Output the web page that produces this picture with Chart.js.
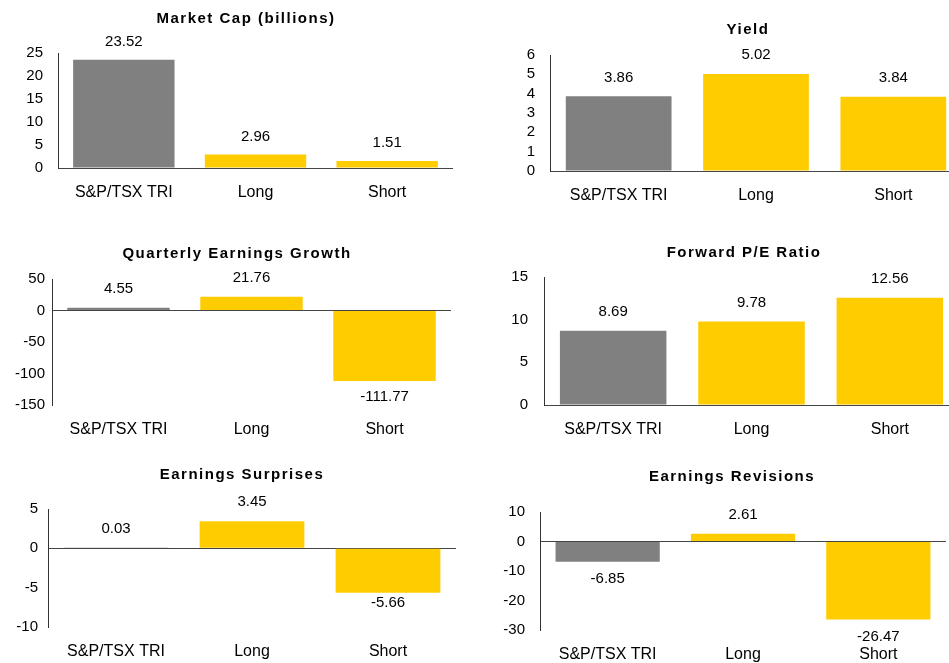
<!DOCTYPE html>
<html>
<head>
<meta charset="utf-8">
<script src="https://cdn.jsdelivr.net/npm/chart.js@4"></script>
<style>
    html, body { margin: 0; padding: 0; background: #fff; width: 949px; height: 663px; overflow: hidden; }
    body { position: relative; }
    .panel { position: absolute; }
</style>
</head>
<body>
<script>
// Data
const categories = ['S&P/TSX TRI', 'Long', 'Short'];
const marketCap = [23.52, 2.96, 1.51];
const yieldValues = [3.86, 5.02, 3.84];
const earningsGrowth = [4.55, 21.76, -111.77];
const forwardPE = [8.69, 9.78, 12.56];
const earningsSurprises = [0.03, 3.45, -5.66];
const earningsRevisions = [-6.85, 2.61, -26.47];
const barColors = ['#808080', '#FFCC00', '#FFCC00'];

const FONT = '"Liberation Sans", Arial, sans-serif';
const Y_AXIS_W = 50;   // space reserved for y tick labels
const X_AXIS_H = 40;   // space reserved for category labels
const TOP_PAD = 45;    // room for the panel title

// Panel layout (plot area in page pixels)
const panels = [
    { title: 'Market Cap (billions)', values: marketCap, min: 0, max: 25, step: 5,
      area: { left: 58, top: 53, right: 453, bottom: 168 }, titleX: 246, titleY: 19, tickPad: 15, up: 18, down: 17 },
    { title: 'Yield', values: yieldValues, min: 0, max: 6, step: 1,
      area: { left: 550, top: 55, right: 962, bottom: 171 }, titleX: 748, titleY: 30, tickPad: 15, up: 19, down: 17 },
    { title: 'Quarterly Earnings Growth', values: earningsGrowth, min: -150, max: 50, step: 50,
      area: { left: 52, top: 279, right: 451, bottom: 405 }, titleX: 237, titleY: 254, tickPad: 7, up: 19, down: 16 },
    { title: 'Forward P/E Ratio', values: forwardPE, min: 0, max: 15, step: 5,
      area: { left: 544, top: 277, right: 959, bottom: 405 }, titleX: 744, titleY: 253, tickPad: 16, up: 19, down: 17 },
    { title: 'Earnings Surprises', values: earningsSurprises, min: -10, max: 5, step: 5,
      area: { left: 48, top: 509, right: 456, bottom: 627 }, titleX: 242, titleY: 475, tickPad: 10, up: 19, down: 10 },
    { title: 'Earnings Revisions', values: earningsRevisions, min: -30, max: 10, step: 10,
      area: { left: 540, top: 512, right: 946, bottom: 630 }, titleX: 732, titleY: 477, tickPad: 15, up: 19, down: 17 }
];

// Spaced bold title above each panel
const panelTitle = {
    id: 'panelTitle',
    afterDraw(chart, args, opts) {
        const ctx = chart.ctx;
        ctx.save();
        ctx.font = 'bold 15px ' + FONT;
        ctx.letterSpacing = '1.5px';
        ctx.fillStyle = '#000';
        ctx.textAlign = 'center';
        ctx.textBaseline = 'middle';
        ctx.fillText(opts.text, opts.x, opts.y);
        ctx.restore();
    }
};

// Value above positive bars, below negative ones
const valueLabels = {
    id: 'valueLabels',
    afterDatasetsDraw(chart, args, opts) {
        const ctx = chart.ctx;
        const meta = chart.getDatasetMeta(0);
        const data = chart.data.datasets[0].data;
        ctx.save();
        ctx.font = '15px ' + FONT;
        ctx.fillStyle = '#000';
        ctx.textAlign = 'center';
        ctx.textBaseline = 'middle';
        meta.data.forEach((bar, i) => {
            const v = data[i];
            const y = v >= 0 ? bar.y - opts.up : bar.y + opts.down;
            ctx.fillText(v.toFixed(2), bar.x, y);
        });
        ctx.restore();
    }
};

panels.forEach(p => {
    const a = p.area;
    const box = document.createElement('div');
    box.className = 'panel';
    box.style.left = (a.left - Y_AXIS_W) + 'px';
    box.style.top = (a.top - TOP_PAD) + 'px';
    box.style.width = (a.right - a.left + Y_AXIS_W) + 'px';
    box.style.height = (a.bottom - a.top + TOP_PAD + X_AXIS_H) + 'px';
    const canvas = document.createElement('canvas');
    box.appendChild(canvas);
    document.body.appendChild(box);

    new Chart(canvas, {
        type: 'bar',
        data: {
            labels: categories,
            datasets: [{
                data: p.values,
                backgroundColor: barColors,
                borderWidth: 0,
                barPercentage: 0.77,
                categoryPercentage: 1.0
            }]
        },
        options: {
            responsive: true,
            maintainAspectRatio: false,
            animation: false,
            layout: { padding: { top: TOP_PAD, left: 0, right: 0, bottom: 0 } },
            plugins: {
                legend: { display: false },
                tooltip: { enabled: false },
                title: { display: false },
                panelTitle: { text: p.title, x: p.titleX - (a.left - Y_AXIS_W), y: p.titleY - (a.top - TOP_PAD) },
                valueLabels: { up: p.up, down: p.down }
            },
            scales: {
                x: {
                    grid: { display: false },
                    border: { display: false },
                    ticks: { color: '#000', font: { family: FONT, size: 16 }, padding: 7, maxRotation: 0, autoSkip: false },
                    afterFit: s => { s.height = X_AXIS_H; }
                },
                y: {
                    min: p.min,
                    max: p.max,
                    border: { display: true, color: '#333', width: 1 },
                    grid: {
                        drawTicks: false,
                        color: c => (c.tick && c.tick.value === 0) ? '#444' : 'rgba(0,0,0,0)',
                        lineWidth: 1
                    },
                    ticks: { stepSize: p.step, autoSkip: false, color: '#000', font: { family: FONT, size: 15 }, padding: p.tickPad },
                    afterFit: s => { s.width = Y_AXIS_W; }
                }
            }
        },
        plugins: [panelTitle, valueLabels]
    });
});
</script>
</body>
</html>
